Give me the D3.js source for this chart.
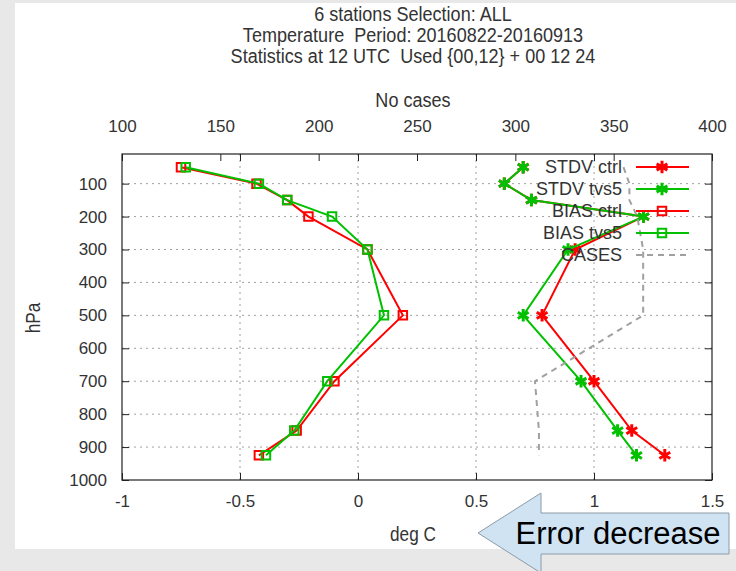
<!DOCTYPE html>
<html>
<head>
<meta charset="utf-8">
<script src="https://cdn.jsdelivr.net/npm/d3@7"></script>
<style>
    body { margin: 0; background: #e8e8e8; }
    svg { display: block; }
    .narrow { font-family: "Liberation Sans", Arial, sans-serif; }
    .tick-text { font-family: "Liberation Sans", Arial, sans-serif; }
</style>
</head>
<body>
<svg width="736" height="571"></svg>
<script>
// pressure levels (hPa) and values
const levels = [50, 100, 150, 200, 300, 500, 700, 850, 925];
const stdvCtrl = [0.70, 0.62, 0.735, 1.21, 0.92, 0.78, 1.00, 1.16, 1.30];
const stdvTvs5 = [0.70, 0.62, 0.735, 1.21, 0.89, 0.70, 0.945, 1.10, 1.18];
const biasCtrl = [-0.75, -0.43, -0.30, -0.21, 0.04, 0.19, -0.10, -0.26, -0.42];
const biasTvs5 = [-0.73, -0.42, -0.30, -0.11, 0.04, 0.11, -0.13, -0.27, -0.39];
const cases = [355, 358, 358, 362, 365, 365, 310, 312, 312];

const xTicks = [-1, -0.5, 0, 0.5, 1, 1.5];
const x2Ticks = [100, 150, 200, 250, 300, 350, 400];
const yTicks = [100, 200, 300, 400, 500, 600, 700, 800, 900, 1000];
const titleLines = ["6 stations Selection: ALL", "Temperature  Period: 20160822-20160913", "Statistics at 12 UTC  Used {00,12} + 00 12 24"];
const legendNames = ["STDV ctrl", "STDV tvs5", "BIAS ctrl", "BIAS tvs5", "CASES"];

const RED = "#ff0000";
const GREEN = "#00c000";
const GREY = "#a0a0a0";

const plotLeft = 122, plotRight = 712, plotTop = 154, plotBottom = 480;

let svg = d3.select("svg");

// white panel on the grey page
svg.append("rect")
    .attr("x", 15).attr("y", 3)
    .attr("width", 721).attr("height", 546)
    .attr("fill", "#ffffff");

let x = d3.scaleLinear().domain([-1, 1.5]).range([plotLeft, plotRight]);
let x2 = d3.scaleLinear().domain([100, 400]).range([plotLeft, plotRight]);
let y = d3.scaleLinear().domain([10, 1000]).range([plotTop, plotBottom]);

// condensed text (the gnuplot font is narrow)
function narrowText(cx, cy, size, txt, rotate) {
    return svg.append("text")
        .attr("class", "narrow")
        .attr("transform", "translate(" + cx + "," + cy + ")" + (rotate ? " rotate(-90)" : "") + " scale(0.86,1)")
        .attr("text-anchor", "middle")
        .attr("font-size", size)
        .attr("fill", "#333")
        .style("white-space", "pre")
        .text(txt);
}

//titles
titleLines.forEach(function (t, i) {
    narrowText(413, 21 + i * 21, 21, t);
});
narrowText(413, 107, 21, "No cases");
narrowText(413, 541, 20, "deg C");
narrowText(40, 318, 20, "hPa", true);

//grid lines
let grid = svg.append("g").attr("stroke", GREY).attr("stroke-width", 1).attr("stroke-dasharray", "2,4");
grid.selectAll(".gx")
    .data(xTicks.slice(1, -1))
    .enter().append("line")
    .attr("x1", function (d) { return x(d); })
    .attr("x2", function (d) { return x(d); })
    .attr("y1", plotTop).attr("y2", plotBottom);
grid.selectAll(".gy")
    .data(yTicks.slice(0, -1))
    .enter().append("line")
    .attr("y1", function (d) { return y(d); })
    .attr("y2", function (d) { return y(d); })
    .attr("x1", plotLeft).attr("x2", plotRight);

//axes, ticks drawn inside like gnuplot
let plain = function (d) { return String(d); };
let xAxis = svg.append("g").attr("transform", "translate(0," + plotBottom + ")")
    .call(d3.axisBottom(x).tickValues(xTicks).tickSizeInner(-7).tickSizeOuter(0).tickPadding(15).tickFormat(plain));
let xAxisTop = svg.append("g").attr("transform", "translate(0," + plotTop + ")")
    .call(d3.axisTop(x).tickValues(xTicks).tickSizeInner(-7).tickSizeOuter(0).tickFormat(""));
let x2Axis = svg.append("g").attr("transform", "translate(0," + plotTop + ")")
    .call(d3.axisTop(x2).tickValues(x2Ticks).tickSizeInner(-7).tickSizeOuter(0).tickPadding(22).tickFormat(plain));
let yAxis = svg.append("g").attr("transform", "translate(" + plotLeft + ",0)")
    .call(d3.axisLeft(y).tickValues(yTicks).tickSizeInner(-7).tickSizeOuter(0).tickPadding(15).tickFormat(plain));
let yAxisRight = svg.append("g").attr("transform", "translate(" + plotRight + ",0)")
    .call(d3.axisRight(y).tickValues(yTicks).tickSizeInner(-7).tickSizeOuter(0).tickFormat(""));

[xAxis, xAxisTop, x2Axis, yAxis, yAxisRight].forEach(function (a) {
    a.select(".domain").remove();
    a.selectAll("line").attr("stroke", "#222");
    a.selectAll("text")
        .attr("class", "tick-text")
        .attr("font-size", 17)
        .attr("fill", "#333");
});

svg.append("rect")
    .attr("x", plotLeft).attr("y", plotTop)
    .attr("width", plotRight - plotLeft).attr("height", plotBottom - plotTop)
    .attr("fill", "none").attr("stroke", "#222").attr("stroke-width", 1.2);

//series
const series = [
    {name: legendNames[0], values: stdvCtrl, colour: RED, mark: "star"},
    {name: legendNames[1], values: stdvTvs5, colour: GREEN, mark: "star"},
    {name: legendNames[2], values: biasCtrl, colour: RED, mark: "square"},
    {name: legendNames[3], values: biasTvs5, colour: GREEN, mark: "square"}
];

let line = d3.line()
    .x(function (d) { return x(d.v); })
    .y(function (d) { return y(d.p); });

let starSymbol = d3.symbol().type(d3.symbolAsterisk).size(110);
let squareSymbol = d3.symbol().type(d3.symbolSquare).size(72);

function drawMark(sel, mark, colour) {
    sel.append("path")
        .attr("d", mark == "star" ? starSymbol() : squareSymbol())
        .attr("fill", "none")
        .attr("stroke", colour)
        .attr("stroke-width", mark == "star" ? 3 : 2);
}

series.forEach(function (s) {
    let pts = levels.map(function (p, i) { return {p: p, v: s.values[i]}; });
    svg.append("path")
        .datum(pts)
        .attr("d", line)
        .attr("fill", "none")
        .attr("stroke", s.colour)
        .attr("stroke-width", 2);
    svg.append("g").selectAll("g")
        .data(pts)
        .enter().append("g")
        .attr("transform", function (d) { return "translate(" + x(d.v) + "," + y(d.p) + ")"; })
        .each(function () { drawMark(d3.select(this), s.mark, s.colour); });
});

//cases on the top axis
let casesLine = d3.line()
    .x(function (d) { return x2(d.c); })
    .y(function (d) { return y(d.p); });
svg.append("path")
    .datum(levels.map(function (p, i) { return {p: p, c: cases[i]}; }))
    .attr("d", casesLine)
    .attr("fill", "none")
    .attr("stroke", GREY)
    .attr("stroke-width", 2)
    .attr("stroke-dasharray", "6,5");

//legend
let legend = svg.append("g");
legendNames.forEach(function (name, i) {
    let ly = 167 + i * 22;
    legend.append("text")
        .attr("class", "tick-text")
        .attr("x", 622).attr("y", ly + 6)
        .attr("text-anchor", "end")
        .attr("font-size", 18)
        .attr("fill", "#333")
        .text(name);
    let s = series[i];
    legend.append("line")
        .attr("x1", 636).attr("x2", 689)
        .attr("y1", ly).attr("y2", ly)
        .attr("stroke", s ? s.colour : GREY)
        .attr("stroke-width", 2)
        .attr("stroke-dasharray", s ? null : "6,5");
    if (s) {
        drawMark(legend.append("g").attr("transform", "translate(662," + ly + ")"), s.mark, s.colour);
    }
});

//the "Error decrease" arrow
svg.append("path")
    .attr("d", "M478,533 L541,493 L541,513 L729,513 L729,554 L541,554 L541,573 Z")
    .attr("fill", "#cfe3f3")
    .attr("stroke", "#8c9aa6")
    .attr("stroke-width", 1);
svg.append("text")
    .attr("class", "tick-text")
    .attr("x", 618).attr("y", 544)
    .attr("text-anchor", "middle")
    .attr("font-size", 31)
    .attr("fill", "#000")
    .text("Error decrease");
</script>
</body>
</html>
